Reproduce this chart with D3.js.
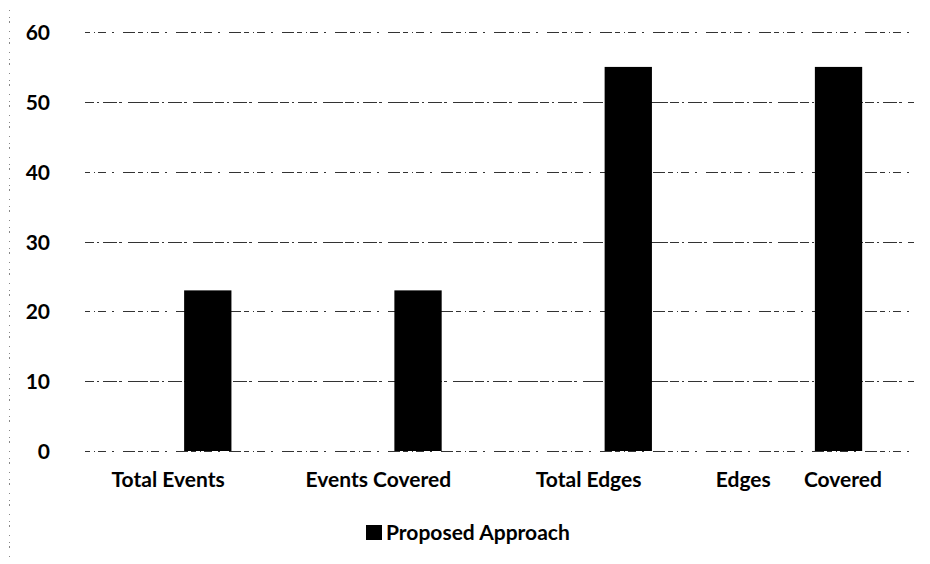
<!DOCTYPE html>
<html>
<head>
<meta charset="utf-8">
<script src="https://cdn.jsdelivr.net/npm/d3@7"></script>
<style>
  html, body { margin: 0; padding: 0; background: #fff; }
  svg { display: block; }
</style>
</head>
<body>
<div id="chart"></div>
<script>
// Coverage comparison: events and edges, proposed approach
const categories = ["Total Events", "Events Covered", "Total Edges", "Edges Covered"];
const seriesName = "Proposed Approach";
const values = [23, 23, 55, 55];
const yTicks = [0, 10, 20, 30, 40, 50, 60];

const W = 930, H = 564;
const svg = d3.select("#chart").append("svg")
  .attr("width", W).attr("height", H);

const gridLeft = 85, gridRight = 914;
const x = d3.scaleBand().domain(categories).range([79, 920]).padding(0);
const y = d3.scaleLinear().domain([0, 60]).range([451, 32]);

const fontStack = "Lato, 'Open Sans', 'DejaVu Sans', sans-serif";

// faint frame edge on the left
svg.append("line")
  .attr("x1", 9.5).attr("x2", 9.5).attr("y1", 10).attr("y2", 560)
  .attr("stroke", "#888").attr("stroke-width", 1)
  .attr("stroke-dasharray", "1 6 1 3 2 8");

// horizontal gridlines, printed as broken dotted rules
svg.append("g").selectAll("line")
  .data(yTicks)
  .join("line")
  .attr("x1", gridLeft).attr("x2", gridRight)
  .attr("y1", d => Math.round(y(d)) + 0.5)
  .attr("y2", d => Math.round(y(d)) + 0.5)
  .attr("stroke", "#333")
  .attr("stroke-width", 1)
  .attr("stroke-dasharray", (d, i) => i % 2 ? "9 3 2 4 14 2 3 6 20 2" : "5 4 1 3 8 6 2 9 12 3");

// y axis labels
const yAxis = d3.axisLeft(y).tickValues(yTicks).tickSize(0).tickPadding(0)
  .tickFormat(d3.format("d"));
svg.append("g")
  .attr("transform", "translate(50,0)")
  .call(yAxis)
  .call(g => g.select(".domain").remove())
  .call(g => g.selectAll("text")
    .attr("font-family", fontStack)
    .attr("font-weight", "bold")
    .attr("font-size", 21)
    .attr("fill", "#000")
    .attr("dy", "0.36em"));

// bars, drawn in the right half of each category slot
svg.append("g").selectAll("rect")
  .data(values)
  .join("rect")
  .attr("x", (d, i) => x(categories[i]) + x.bandwidth() / 2)
  .attr("width", x.bandwidth() * 0.225)
  .attr("y", d => y(d))
  .attr("height", d => y(0) - y(d))
  .attr("fill", "#000");

// category labels
svg.append("g").selectAll("text")
  .data(categories)
  .join("text")
  .attr("x", d => x(d) + x.bandwidth() / 2 - 16)
  .attr("y", 487)
  .attr("text-anchor", "middle")
  .attr("font-family", fontStack)
  .attr("font-weight", "bold")
  .attr("font-size", 21)
  .attr("fill", "#000")
  .style("word-spacing", d => d === "Edges Covered" ? "28px" : "0px")
  .text(d => d);

// legend
const legend = svg.append("g").attr("transform", "translate(366,525)");
legend.append("rect")
  .attr("width", 16).attr("height", 15)
  .attr("fill", "#000");
legend.append("text")
  .attr("x", 20).attr("y", 7.5)
  .attr("dy", "0.36em")
  .attr("font-family", fontStack)
  .attr("font-weight", "bold")
  .attr("font-size", 21)
  .attr("fill", "#000")
  .text(seriesName);
</script>
</body>
</html>
